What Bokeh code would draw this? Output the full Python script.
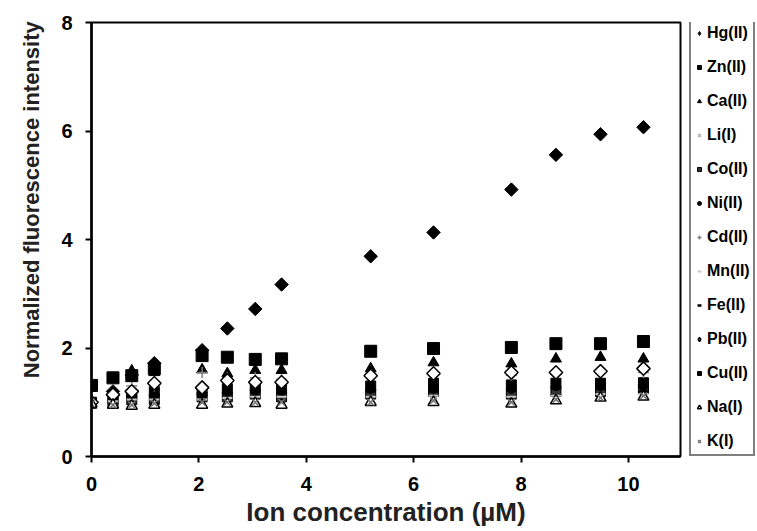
import numpy as np
from bokeh.plotting import figure
from bokeh.layouts import row
from bokeh.models import Range1d, FixedTicker, Legend, LegendItem
from bokeh.embed import file_html
from bokeh.resources import INLINE

conc = [0, 0.4, 0.75, 1.17, 2.06, 2.53, 3.05, 3.54, 5.2, 6.37, 7.82, 8.65, 9.48, 10.28]

hg = [1.0, 1.2, 1.5, 1.72, 1.96, 2.36, 2.72, 3.17, 3.69, 4.13, 4.92, 5.56, 5.94, 6.07]
zn = [1.0, 1.05, 1.15, 1.2, 1.2, 1.25, 1.3, 1.25, 1.3, 1.35, 1.32, 1.35, 1.35, 1.36]
ca = [1.0, 1.15, 1.58, 1.55, 1.6, 1.53, 1.59, 1.59, 1.62, 1.73, 1.71, 1.8, 1.83, 1.8]
li = [1.0, 1.0, 1.02, 1.05, 1.0, 1.05, 1.05, 1.05, 1.08, 1.1, 1.08, 1.1, 1.1, 1.12]
co = [0.98, 1.0, 1.05, 1.05, 1.1, 1.1, 1.15, 1.1, 1.15, 1.2, 1.15, 1.2, 1.2, 1.25]
ni = [1.0, 1.05, 1.1, 1.1, 1.15, 1.2, 1.2, 1.2, 1.25, 1.25, 1.25, 1.3, 1.3, 1.3]
cd = [1.0, 1.1, 1.3, 1.3, 1.55, 1.45, 1.45, 1.42, 1.5, 1.5, 1.5, 1.52, 1.55, 1.55]
mn = [1.0, 1.02, 1.05, 1.05, 1.05, 1.08, 1.1, 1.1, 1.1, 1.12, 1.1, 1.12, 1.15, 1.15]
fe = [1.0, 1.1, 1.15, 1.15, 1.1, 1.15, 1.2, 1.2, 1.2, 1.2, 1.22, 1.25, 1.25, 1.2]
pb = [1.0, 1.14, 1.2, 1.35, 1.27, 1.4, 1.37, 1.37, 1.49, 1.53, 1.55, 1.55, 1.57, 1.62]
cu = [1.31, 1.45, 1.49, 1.62, 1.86, 1.83, 1.79, 1.8, 1.94, 1.99, 2.01, 2.08, 2.08, 2.12]
na = [0.97, 0.95, 0.93, 0.95, 0.95, 0.97, 0.98, 0.95, 1.0, 1.0, 0.97, 1.03, 1.08, 1.1]
k = [0.97, 0.95, 0.95, 0.98, 1.0, 1.0, 1.0, 1.0, 1.0, 1.03, 1.0, 1.05, 1.08, 1.12]

labels = ["Hg(II)", "Zn(II)", "Ca(II)", "Li(I)", "Co(II)", "Ni(II)", "Cd(II)",
          "Mn(II)", "Fe(II)", "Pb(II)", "Cu(II)", "Na(I)", "K(I)"]
series = [hg, zn, ca, li, co, ni, cd, mn, fe, pb, cu, na, k]

# marker, size, fill, line, angle, line_width, legend marker
styles = [
    ("square", 9.5, "black", "black", np.pi / 4, 1, "diamond"),
    ("square", 10, "black", "black", 0, 1, "square"),
    ("triangle", 11, "black", "black", 0, 1, "triangle"),
    ("x", 9, None, "#b0b0b0", 0, 1.5, "x"),
    ("square", 10, "#333333", "black", 0, 1, "square"),
    ("circle", 9, "black", "black", 0, 1, "circle"),
    ("cross", 11, None, "#808080", 0, 1.5, "cross"),
    ("dash", 10, None, "#c8c8c8", 0, 2, "dash"),
    ("dash", 10, None, "black", 0, 2.5, "dash"),
    ("square", 9.5, "white", "black", np.pi / 4, 1.5, "diamond"),
    ("square", 12, "black", "black", 0, 1, "square"),
    ("triangle", 11, "white", "black", 0, 1.5, "triangle"),
    ("x", 9, None, "#707070", 0, 1.5, "x"),
]

font = "Liberation Sans"

# ---- main plot ----
p = figure(width=682, height=531, output_backend="svg", toolbar_location=None,
           x_range=Range1d(0, 10.97), y_range=Range1d(0, 8),
           min_border_left=91, min_border_right=2, min_border_top=22, min_border_bottom=75)
p.xgrid.visible = False
p.ygrid.visible = False
p.outline_line_color = "black"
p.outline_line_width = 2
p.background_fill_color = "white"
p.border_fill_color = "white"

for ys, st in zip(series, styles):
    m, s, fc, lc, ang, lw, lm = st
    p.scatter(conc, ys, marker=m, size=s, fill_color=fc, line_color=lc,
              angle=ang, line_width=lw)

for ax in (p.xaxis, p.yaxis):
    ax.axis_line_width = 2.5
    ax.axis_line_color = "black"
    ax.major_tick_line_width = 2
    ax.major_tick_line_color = "black"
    ax.major_tick_out = 6
    ax.major_tick_in = 0
    ax.minor_tick_line_color = None
    ax.major_label_text_font = font
    ax.major_label_text_font_style = "bold"
    ax.major_label_text_font_size = "20px"
    ax.major_label_text_color = "black"
    ax.axis_label_text_font = font
    ax.axis_label_text_font_style = "bold"
    ax.axis_label_text_color = "#222222"

p.xaxis.ticker = FixedTicker(ticks=[0, 2, 4, 6, 8, 10])
p.yaxis.ticker = FixedTicker(ticks=[0, 2, 4, 6, 8])
p.xaxis.axis_label = "Ion concentration (\u00b5M)"
p.xaxis.axis_label_text_font_size = "26px"
p.xaxis.major_label_standoff = 14
p.xaxis.axis_label_standoff = 3
p.yaxis.major_label_standoff = 13

# leading no-break spaces lift the centred title toward the top, as in the original
p.yaxis.axis_label = "\u00a0" * 13 + "Normalized fluorescence intensity"
p.yaxis.axis_label_text_font_size = "22px"
p.yaxis.axis_label_standoff = 14

# ---- legend panel (separate narrow canvas at the right) ----
pl = figure(width=75, height=531, output_backend="svg", toolbar_location=None,
            x_range=Range1d(0, 10.97), y_range=Range1d(0, 8),
            x_axis_type=None, y_axis_type=None,
            min_border_left=0, min_border_right=0, min_border_top=0, min_border_bottom=0)
pl.outline_line_color = None
pl.background_fill_color = "white"
pl.border_fill_color = "white"
pl.xgrid.visible = False
pl.ygrid.visible = False

items = []
for lab, ys, st in zip(labels, series, styles):
    m, s, fc, lc, ang, lw, lm = st
    r = pl.scatter(conc, ys, marker=lm, size=s, fill_color=fc, line_color=lc,
                   line_width=lw, visible=False)
    items.append(LegendItem(label=lab, renderers=[r]))

legend = Legend(items=items, location=(7, 0))
legend.border_line_color = "black"
legend.border_line_width = 2
legend.background_fill_color = "white"
legend.background_fill_alpha = 1
legend.padding = 3
legend.margin = 0
legend.spacing = 14
legend.glyph_height = 20
legend.glyph_width = 10
legend.label_height = 20
legend.label_standoff = 3
legend.label_text_font = font
legend.label_text_font_style = "bold"
legend.label_text_font_size = "16px"
legend.label_text_color = "black"
pl.add_layout(legend, "center")

layout = row(p, pl, spacing=0)
open("out.html", "w").write(file_html(layout, INLINE))
